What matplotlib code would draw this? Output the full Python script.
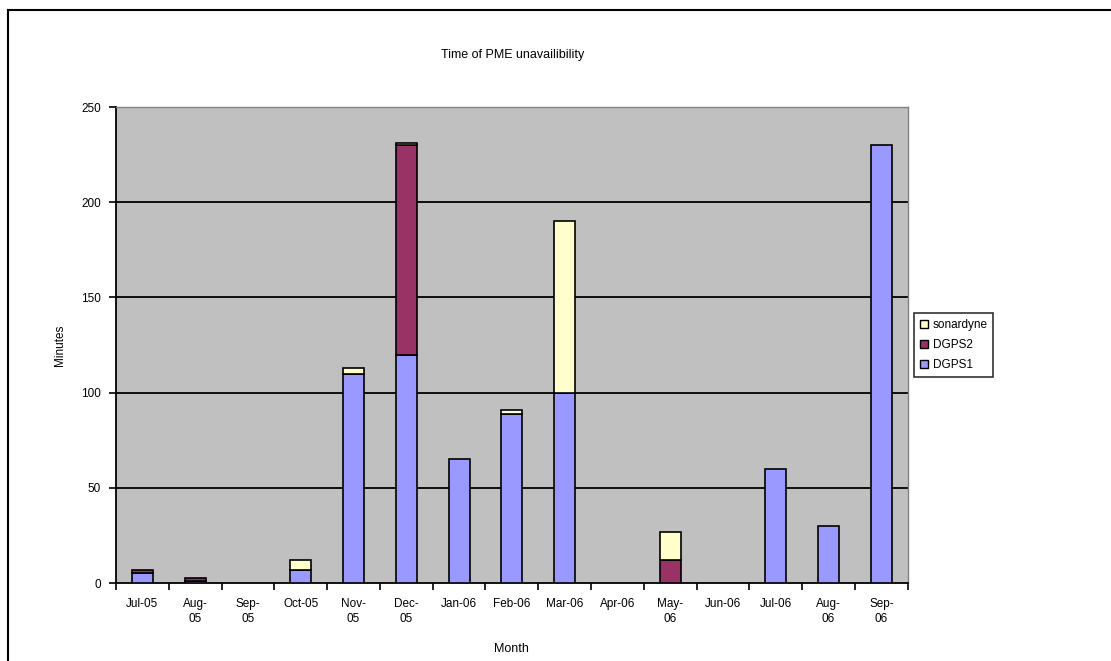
import numpy as np
import matplotlib.pyplot as plt
from matplotlib.lines import Line2D
from matplotlib.patches import Patch

plt.rcParams["font.family"] = ["Liberation Sans", "DejaVu Sans"]

months = ["Jul-05", "Aug-\n05", "Sep-\n05", "Oct-05", "Nov-\n05", "Dec-\n05", "Jan-06",
          "Feb-06", "Mar-06", "Apr-06", "May-\n06", "Jun-06", "Jul-06", "Aug-\n06", "Sep-\n06"]
dgps1 = [5, 1, 0, 7, 110, 120, 65, 89, 100, 0, 0, 0, 60, 30, 230]
dgps2 = [2, 1.5, 0, 0, 0, 110, 0, 0, 0, 0, 12, 0, 0, 0, 0]
sonardyne = [0, 0, 0, 5, 3, 1, 0, 2, 90, 0, 15, 0, 0, 0, 0]

colors = {"DGPS1": "#9999FF", "DGPS2": "#993366", "sonardyne": "#FFFFCC"}

fig = plt.figure(figsize=(11.11, 6.61), dpi=100)
ax = fig.add_axes([0.1044, 0.118, 0.7127, 0.720])
ax.set_facecolor("#C0C0C0")

x = np.arange(len(months))
w = 0.4
kw = dict(width=w, edgecolor="black", linewidth=1.2, zorder=3)
b1 = ax.bar(x, dgps1, color=colors["DGPS1"], **kw)
b2 = ax.bar(x, dgps2, bottom=dgps1, color=colors["DGPS2"], **kw)
base = np.array(dgps1) + np.array(dgps2)
b3 = ax.bar(x, sonardyne, bottom=base, color=colors["sonardyne"], **kw)
# hide zero-height bars
for bars, vals in ((b1, dgps1), (b2, dgps2), (b3, sonardyne)):
    for b, v in zip(bars, vals):
        if v == 0:
            b.set_visible(False)

ax.set_xlim(-0.5, len(months) - 0.5)
ax.set_ylim(0, 250)
ax.set_yticks([0, 50, 100, 150, 200, 250])
for yv in [50, 100, 150, 200]:
    ax.axhline(yv, color="black", linewidth=1.3, zorder=1)

ax.set_xticks(x)
ax.set_xticklabels(months, fontsize=8.5, linespacing=1.3)
ax.tick_params(axis="x", length=0, pad=11)
ax.set_xticks(np.arange(-0.5, len(months)), minor=True)
ax.tick_params(axis="x", which="minor", length=5, width=1.2, direction="out")
ax.tick_params(axis="y", length=5, width=1.2, labelsize=8.5, pad=6)

for s in ("top", "right"):
    ax.spines[s].set_color("#808080")
    ax.spines[s].set_linewidth(1)
for s in ("left", "bottom"):
    ax.spines[s].set_linewidth(1.3)

ax.set_xlabel("Month", fontsize=9, labelpad=13)
ax.set_ylabel("Minutes", fontsize=8.5, labelpad=11)
fig.text(0.461, 0.917, "Time of PME unavailibility", fontsize=9, ha="center", va="center")

handles = [Patch(facecolor=colors[k], edgecolor="black", label=k)
           for k in ("sonardyne", "DGPS2", "DGPS1")]
leg = ax.legend(handles=handles, loc="center left", bbox_to_anchor=(1.0, 0.5),
                fontsize=8.5, frameon=True, fancybox=False, edgecolor="black",
                handlelength=0.7, handleheight=0.7, handletextpad=0.4,
                borderpad=0.5, labelspacing=0.7)
leg.get_frame().set_linewidth(1.2)

# outer chart frame (left and top edges visible)
fig.add_artist(Line2D([0.0075, 0.0075], [0.985, 0.0], transform=fig.transFigure,
                      color="black", linewidth=1.5))
fig.add_artist(Line2D([0.0075, 1.0], [0.985, 0.985], transform=fig.transFigure,
                      color="black", linewidth=1.5))

fig.savefig("out.png", dpi=100)
